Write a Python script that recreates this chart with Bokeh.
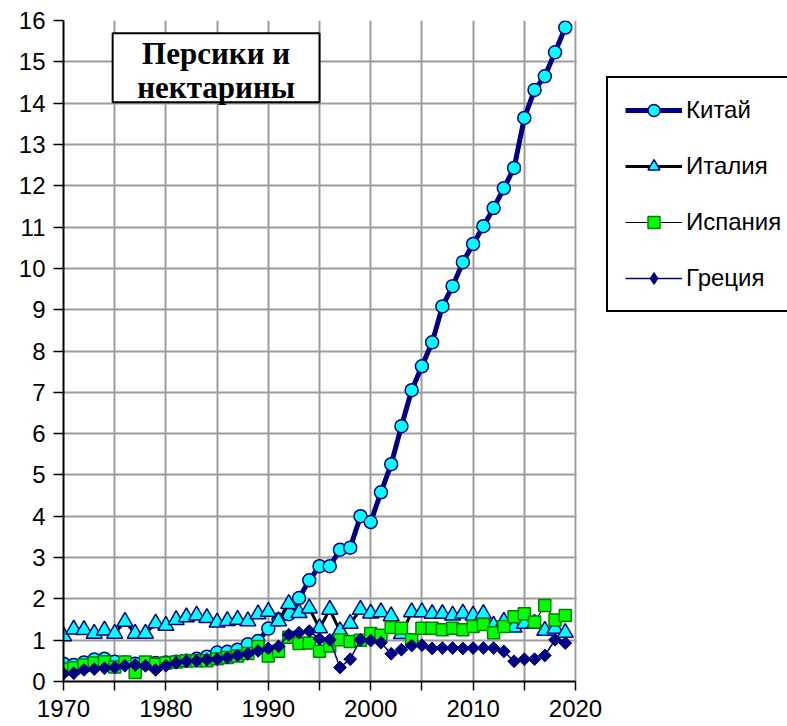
import numpy as np
from bokeh.plotting import figure
from bokeh.models import Range1d, FixedTicker, Legend, LegendItem, BoxAnnotation, Label
from bokeh.embed import file_html
from bokeh.resources import INLINE

# ---------------- data ----------------
years = list(range(1970, 2020))

china = [0.43, 0.40, 0.46, 0.53, 0.55, 0.48, 0.46, 0.43, 0.43, 0.45,
         0.46, 0.48, 0.50, 0.55, 0.60, 0.70, 0.72, 0.77, 0.90, 0.98,
         1.28, 1.50, 1.63, 2.02, 2.45, 2.79, 2.79, 3.19, 3.24, 4.00,
         3.86, 4.58, 5.26, 6.18, 7.05, 7.63, 8.21, 9.08, 9.57, 10.15,
         10.59, 11.02, 11.46, 11.94, 12.43, 13.64, 14.32, 14.65, 15.23, 15.83]

italy = [1.10, 1.26, 1.25, 1.16, 1.24, 1.16, 1.45, 1.16, 1.16, 1.41,
         1.35, 1.49, 1.56, 1.60, 1.54, 1.43, 1.47, 1.50, 1.46, 1.63,
         1.69, 1.46, 1.88, 1.66, 1.77, 1.29, 1.74, 1.22, 1.40, 1.74,
         1.65, 1.68, 1.58, 1.15, 1.68, 1.68, 1.64, 1.64, 1.60, 1.65,
         1.60, 1.64, 1.35, 1.45, 1.31, 1.40, 1.40, 1.23, 1.28, 1.18]

spain = [0.30, 0.33, 0.40, 0.45, 0.48, 0.35, 0.47, 0.22, 0.47, 0.42,
         0.45, 0.47, 0.50, 0.50, 0.50, 0.55, 0.58, 0.62, 0.68, 0.85,
         0.62, 0.73, 1.07, 0.92, 0.93, 0.73, 0.86, 1.01, 0.97, 1.00,
         1.16, 1.12, 1.31, 1.29, 1.01, 1.29, 1.29, 1.25, 1.29, 1.25,
         1.33, 1.38, 1.18, 1.33, 1.57, 1.64, 1.44, 1.84, 1.49, 1.60]

greece = [0.19, 0.20, 0.28, 0.30, 0.32, 0.34, 0.38, 0.40, 0.38, 0.28,
          0.38, 0.45, 0.49, 0.50, 0.53, 0.54, 0.58, 0.63, 0.67, 0.74,
          0.80, 0.85, 1.13, 1.18, 1.22, 1.03, 1.01, 0.34, 0.54, 1.01,
          0.99, 0.94, 0.67, 0.77, 0.87, 0.88, 0.80, 0.81, 0.81, 0.80,
          0.81, 0.81, 0.81, 0.73, 0.49, 0.54, 0.54, 0.63, 1.01, 0.93]

series_names = ["Китай", "Италия", "Испания", "Греция"]
x_ticks = list(range(1970, 2021, 5))
y_ticks = list(range(0, 17))
x_label_overrides = {t: (str(t) if t % 10 == 0 else "") for t in x_ticks}
title_lines = ["Персики и", "нектарины"]

NAVY = "#000080"
CYAN = "#00ffff"
GREEN = "#00ff00"
DKGREEN = "#008000"
SANS = "Liberation Sans"

# ---------------- figure ----------------
# The frame is widened past 2020 so that the legend (which sits right of the
# plot area in the reference) is drawn inside the frame; the axis is bounded
# to 1970-2020 and the area beyond 2020 is covered in white.
X_START, X_END_AXIS, X_END_VIEW = 1970, 2020, 2040.7
p = figure(width=787, height=726, output_backend="svg", toolbar_location=None,
           x_range=Range1d(X_START, X_END_VIEW), y_range=Range1d(0, 16),
           min_border_left=63, min_border_right=0, min_border_top=20,
           min_border_bottom=45)
p.outline_line_color = None
p.background_fill_color = "white"
p.border_fill_color = "white"

p.xaxis.ticker = FixedTicker(ticks=x_ticks)
p.yaxis.ticker = FixedTicker(ticks=y_ticks)
p.xaxis.major_label_overrides = x_label_overrides
p.xaxis.bounds = (X_START, X_END_AXIS)

for ax in (p.xaxis[0], p.yaxis[0]):
    ax.axis_line_color = "black"
    ax.axis_line_width = 2
    ax.major_tick_line_color = "black"
    ax.major_tick_line_width = 1.5
    ax.major_tick_in = 0
    ax.minor_tick_line_color = None
    ax.major_label_text_font = SANS
    ax.major_label_text_font_size = "24px"
    ax.major_label_text_color = "black"

p.xaxis.major_tick_out = 9
p.xaxis.major_label_standoff = 9
p.yaxis.major_tick_out = 10
p.yaxis.major_label_standoff = 8

for g in (p.xgrid[0], p.ygrid[0]):
    g.grid_line_color = "#9c9c9c"
    g.grid_line_width = 2

# ---------------- series ----------------
cn_l = p.line(years, china, line_color=NAVY, line_width=5)
cn_m = p.scatter(years, china, marker="circle", size=13, fill_color=CYAN,
                 line_color=NAVY, line_width=1.5)

it_l = p.line(years, italy, line_color="black", line_width=3)
it_m = p.scatter(years, italy, marker="triangle", size=16, fill_color=CYAN,
                 line_color=NAVY, line_width=1.5)

es_l = p.line(years, spain, line_color="black", line_width=1.2)
es_m = p.scatter(years, spain, marker="square", size=12, fill_color=GREEN,
                 line_color=DKGREEN, line_width=1.5)

gr_l = p.line(years, greece, line_color=NAVY, line_width=1.5)
gr_m = p.scatter(years, greece, marker="square", size=9, angle=np.pi / 4,
                 fill_color=NAVY, line_color=NAVY, line_width=1)
# same points as a (non-rotated) diamond glyph, used for the legend swatch
gr_d = p.scatter(years, greece, marker="diamond", size=12,
                 fill_color=NAVY, line_color=NAVY, line_width=1)

# white cover for the part of the frame beyond 2020 (hides grid there)
cover = BoxAnnotation(left=X_END_AXIS + 0.12, fill_color="white", fill_alpha=1.0,
                      line_alpha=0.0)
p.add_layout(cover)

# ---------------- legend ----------------
legend = Legend(items=[
    LegendItem(label=series_names[0], renderers=[cn_l, cn_m]),
    LegendItem(label=series_names[1], renderers=[it_l, it_m]),
    LegendItem(label=series_names[2], renderers=[es_l, es_m]),
    LegendItem(label=series_names[3], renderers=[gr_l, gr_d]),
], location=(543, 369), margin=0, padding=17, spacing=26,
    glyph_width=57, glyph_height=30, label_standoff=4,
    label_text_font=SANS, label_text_font_size="24px",
    label_text_color="black",
    border_line_color="black", border_line_alpha=1.0, border_line_width=2,
    background_fill_color="white", background_fill_alpha=1.0)
p.add_layout(legend, "center")

# ---------------- title box ----------------
box = BoxAnnotation(left=1974.8, right=1995.0, top=15.69, bottom=14.02,
                    fill_color="white", fill_alpha=1.0,
                    line_color="black", line_alpha=1.0, line_width=2)
p.add_layout(box)

for txt, yb in zip(title_lines, [15.2, 14.39]):
    p.add_layout(Label(x=1984.9, y=yb, text=txt, text_align="center",
                       text_baseline="alphabetic", text_font="Liberation Serif",
                       text_font_style="bold", text_font_size="31px",
                       text_color="black"))

open("out.html", "w").write(file_html(p, INLINE))
